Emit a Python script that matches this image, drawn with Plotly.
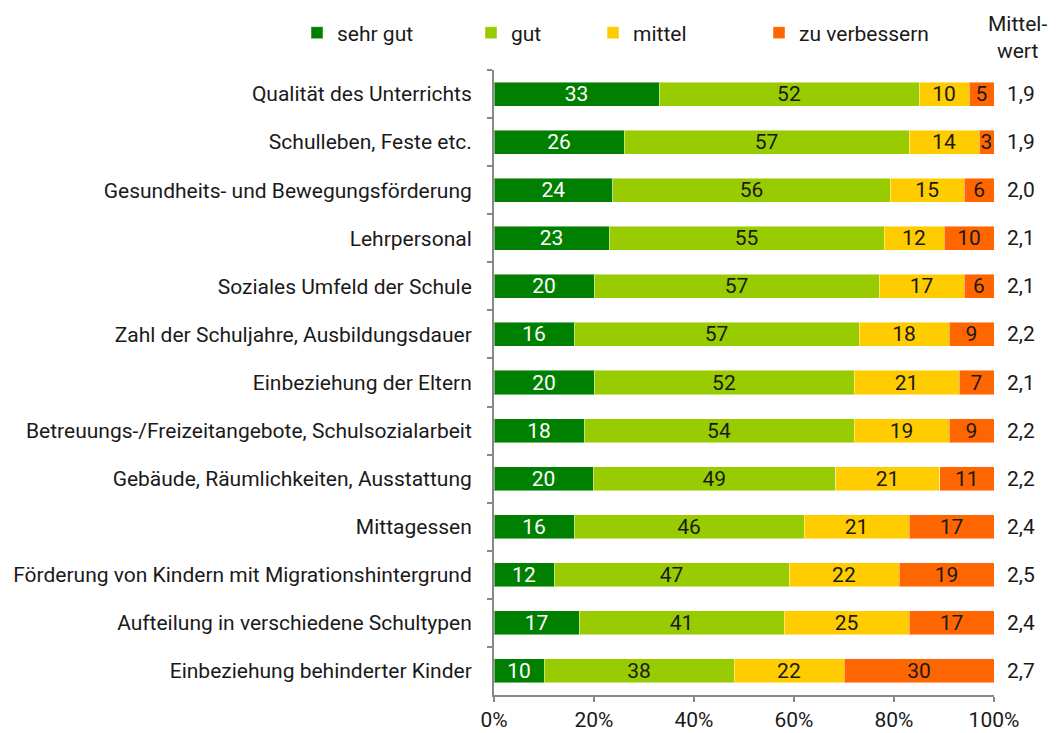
import plotly.graph_objects as go

categories = [
    "Qualität des Unterrichts",
    "Schulleben, Feste etc.",
    "Gesundheits- und Bewegungsförderung",
    "Lehrpersonal",
    "Soziales Umfeld der Schule",
    "Zahl der Schuljahre, Ausbildungsdauer",
    "Einbeziehung der Eltern",
    "Betreuungs-/Freizeitangebote, Schulsozialarbeit",
    "Gebäude, Räumlichkeiten, Ausstattung",
    "Mittagessen",
    "Förderung von Kindern mit Migrationshintergrund",
    "Aufteilung in verschiedene Schultypen",
    "Einbeziehung behinderter Kinder",
]
sehr_gut = [33, 26, 24, 23, 20, 16, 20, 18, 20, 16, 12, 17, 10]
gut = [52, 57, 56, 55, 57, 57, 52, 54, 49, 46, 47, 41, 38]
mittel = [10, 14, 15, 12, 17, 18, 21, 19, 21, 21, 22, 25, 22]
zu_verbessern = [5, 3, 6, 10, 6, 9, 7, 9, 11, 17, 19, 17, 30]
mittelwert = ["1,9", "1,9", "2,0", "2,1", "2,1", "2,2", "2,1", "2,2", "2,2", "2,4", "2,5", "2,4", "2,7"]
x_ticks = [0, 20, 40, 60, 80, 100]
x_tick_labels = ["0%", "20%", "40%", "60%", "80%", "100%"]

series = [
    ("sehr gut", sehr_gut, "#008000", "white", "legend"),
    ("gut", gut, "#99CC00", "#1a1a1a", "legend2"),
    ("mittel", mittel, "#FFCC00", "#1a1a1a", "legend3"),
    ("zu verbessern", zu_verbessern, "#FF6600", "#1a1a1a", "legend4"),
]

FONT = "Roboto"
FS = 21
# the page body adds an 8px offset; the figure fills the rest of the window
W, H = 1050, 725
fig = go.Figure()
for name, vals, color, tcolor, leg in series:
    fig.add_trace(go.Bar(
        name=name, y=categories, x=vals, orientation="h",
        marker=dict(color=color, line=dict(color="rgba(255,255,255,0.45)", width=1)),
        text=[str(v) for v in vals], textposition="inside", textangle=0,
        insidetextanchor="middle",
        textfont=dict(color=tcolor, size=FS, family=FONT),
        legend=leg, hoverinfo="skip", showlegend=True,
    ))

for cat, mw in zip(categories, mittelwert):
    fig.add_annotation(x=1.054, xref="paper", y=cat, yref="y", text=mw,
                       showarrow=False, font=dict(size=FS, family=FONT, color="#1a1a1a"),
                       xanchor="center")

fig.add_annotation(x=1.046, xref="paper", y=1.052, yref="paper", yanchor="middle",
                   xanchor="center",
                   text="Mittel-<br>wert", showarrow=False, align="center",
                   font=dict(size=FS, family=FONT, color="#1a1a1a"))

leg_y = 1 - (33 - 8) / H
def leg(px):
    return dict(orientation="h", yanchor="middle", xanchor="left",
                xref="container", yref="container", x=(px - 8) / W, y=leg_y,
                font=dict(size=FS, family=FONT, color="#1a1a1a"),
                bgcolor="rgba(0,0,0,0)", itemwidth=30, visible=True)

fig.update_layout(
    barmode="stack", barnorm="percent", bargap=0.5,
    width=W, height=H, showlegend=True,
    margin=dict(l=486, r=64, t=62, b=38, autoexpand=False),
    paper_bgcolor="white", plot_bgcolor="white",
    font=dict(family=FONT, size=FS, color="#1a1a1a"),
    uniformtext=dict(minsize=FS, mode="show"),
    legend=leg(297), legend2=leg(471), legend3=leg(593), legend4=leg(759),
    xaxis=dict(range=[0, 100], tickvals=x_ticks, ticktext=x_tick_labels,
               showgrid=False, zeroline=False, showline=True, linecolor="#888888",
               linewidth=2, ticks="outside", ticklen=5, tickcolor="#888888",
               tickwidth=2, ticklabelstandoff=0,
               tickfont=dict(size=FS, family=FONT, color="#1a1a1a"),
               fixedrange=True),
    yaxis=dict(autorange="reversed", showgrid=False, showline=True,
               linecolor="#888888", linewidth=2, ticks="outside", ticklen=5,
               tickcolor="#888888", tickwidth=2, tickson="boundaries",
               ticklabelstandoff=16,
               tickfont=dict(size=FS, family=FONT, color="#1a1a1a")),
)
fig.write_html("out.html")
